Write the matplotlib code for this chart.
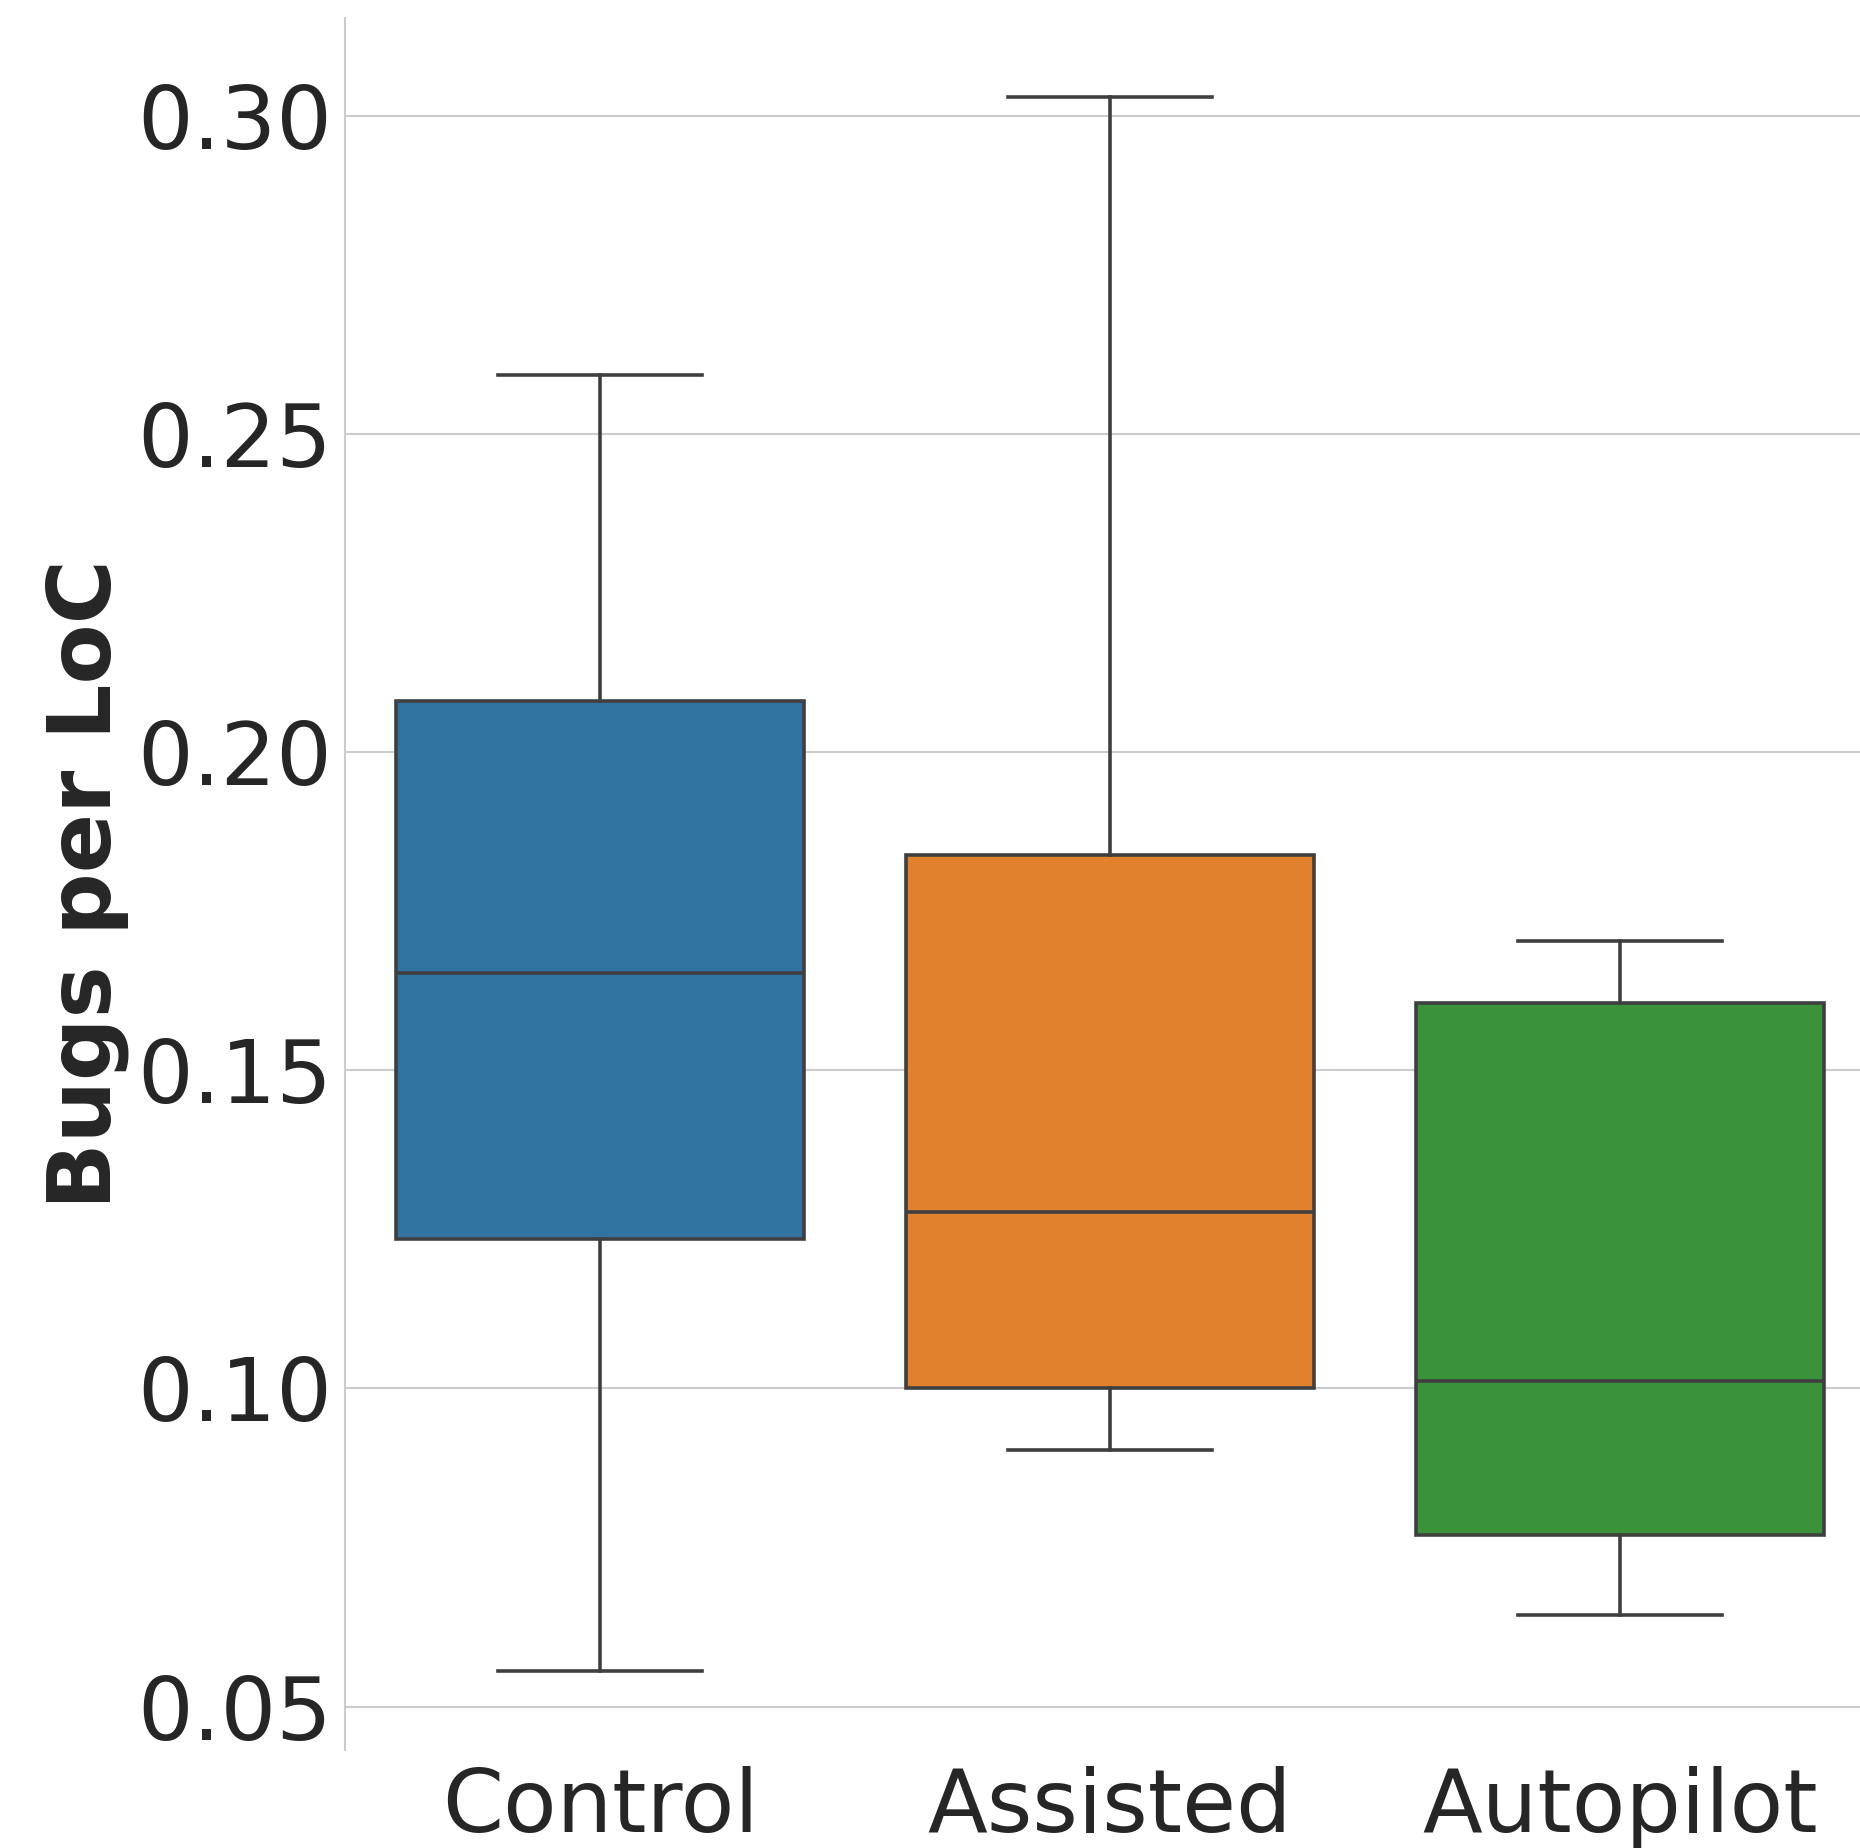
import matplotlib
matplotlib.use("Agg")
import matplotlib.pyplot as plt

# box statistics (bugs per line of code)
groups = ["Control", "Assisted", "Autopilot"]
whisker_low = [0.0556, 0.0903, 0.0644]
q1 = [0.1235, 0.1000, 0.0769]
median = [0.1653, 0.1278, 0.1011]
q3 = [0.2080, 0.1838, 0.1606]
whisker_high = [0.2593, 0.3030, 0.1703]
colors = ["#3274a1", "#e1812c", "#3a923a"]

LINE = "#3f3f3f"
FS = 63


def build_stats():
    stats = []
    for i, name in enumerate(groups):
        stats.append({
            "label": name,
            "whislo": whisker_low[i],
            "q1": q1[i],
            "med": median[i],
            "q3": q3[i],
            "whishi": whisker_high[i],
            "fliers": [],
        })
    return stats


fig = plt.figure(figsize=(18.6, 18.48), dpi=100)
ax = fig.add_axes([345 / 1860, 0.0532, 1530 / 1860, 0.9371])

bp = ax.bxp(
    build_stats(),
    positions=range(len(groups)),
    widths=0.8,
    patch_artist=True,
    showfliers=False,
    boxprops=dict(edgecolor=LINE, linewidth=2.6),
    medianprops=dict(color=LINE, linewidth=2.6),
    whiskerprops=dict(color=LINE, linewidth=2.6),
    capprops=dict(color=LINE, linewidth=2.6),
)
for patch, c in zip(bp["boxes"], colors):
    patch.set_facecolor(c)
    patch.set_zorder(2)

ax.set_xlim(-0.5, 2.5)
ax.set_yticks([0.05, 0.10, 0.15, 0.20, 0.25, 0.30])
ax.set_yticklabels([f"{v:.2f}" for v in [0.05, 0.10, 0.15, 0.20, 0.25, 0.30]])

ax.grid(axis="y", color="#cccccc", linewidth=1.5)
ax.grid(axis="x", visible=False)
ax.set_axisbelow(True)

for side in ["top", "right", "bottom"]:
    ax.spines[side].set_visible(False)
ax.spines["left"].set_color("#cccccc")
ax.spines["left"].set_linewidth(1.5)

ax.tick_params(axis="both", length=0, labelsize=FS, labelcolor="#262626")
ax.tick_params(axis="y", pad=9.5)
ax.tick_params(axis="x", pad=12)

ax.set_ylabel("Bugs per LoC", fontsize=FS, fontweight="bold", color="#262626")
ax.yaxis.set_label_coords(-0.141, 0.5)

fig.savefig("out.png", dpi=100)
